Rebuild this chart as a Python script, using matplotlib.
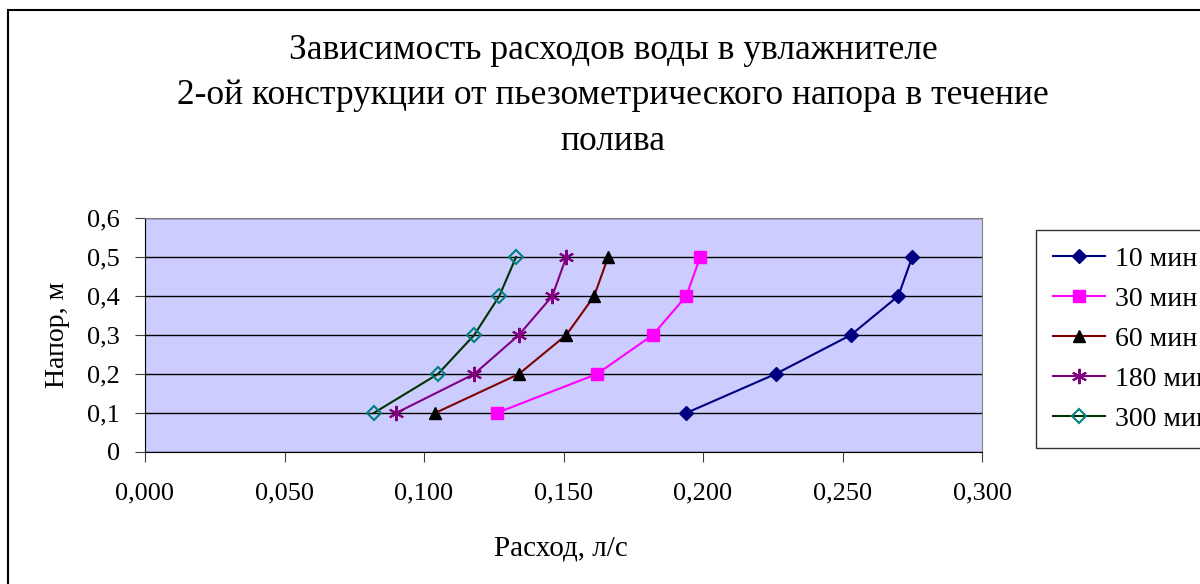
import numpy as np
import matplotlib.pyplot as plt
from matplotlib.patches import Rectangle

plt.rcParams['font.family'] = ['Liberation Serif', 'DejaVu Serif']

# data ========================================================================
head = [0.1, 0.2, 0.3, 0.4, 0.5]
q_10 = [0.194, 0.226, 0.253, 0.270, 0.275]
q_30 = [0.126, 0.162, 0.182, 0.194, 0.199]
q_60 = [0.104, 0.134, 0.151, 0.161, 0.166]
q_180 = [0.090, 0.118, 0.134, 0.146, 0.151]
q_300 = [0.082, 0.105, 0.118, 0.127, 0.133]
labels = ['10 мин', '30 мин', '60 мин', '180 мин', '300 мин']

x_ticks = [0.0, 0.05, 0.10, 0.15, 0.20, 0.25, 0.30]
y_ticks = [0, 0.1, 0.2, 0.3, 0.4, 0.5, 0.6]

# plot ========================================================================
fig = plt.figure(figsize=(12, 5.84), dpi=100)
ax = fig.add_axes([145/1200, 1-452/584, (982-145)/1200, (452-218)/584])
ax.set_facecolor('#CCCCFF')

ax.plot(q_10, head, color='#000080', marker='D', ms=7.5, mfc='#000080', mec='#000080', lw=1.5, label=labels[0])
ax.plot(q_30, head, color='#FF00FF', marker='s', ms=8, mfc='#FF00FF', mec='#FF00FF', lw=1.5, label=labels[1])
ax.plot(q_60, head, color='#800000', marker='^', ms=9, mfc='black', mec='black', lw=1.5, label=labels[2])
ax.plot(q_180, head, color='#800080', marker=(6, 2, 0), ms=11, mew=1.5, mec='#800080', lw=1.5, label=labels[3])
ax.plot(q_300, head, color='#003300', marker='D', ms=7, mfc='none', mec='#008080', mew=1.5, lw=1.5, label=labels[4])

ax.set_xlim(0, 0.3)
ax.set_ylim(0, 0.6)
ax.set_xticks(x_ticks)
ax.set_xticklabels([f'{v:.3f}'.replace('.', ',') for v in x_ticks])
ax.set_yticks(y_ticks)
ax.set_yticklabels(['0'] + [f'{v:.1f}'.replace('.', ',') for v in y_ticks[1:]])
ax.tick_params(labelsize=19, direction='out', length=7, color='#404040')
ax.tick_params(axis='x', pad=15)
ax.tick_params(axis='y', pad=11)
ax.yaxis.grid(True, color='black', lw=1)
ax.set_axisbelow(True)
for s in ['top', 'right']:
    ax.spines[s].set_color('#808080')
for s in ['left', 'bottom']:
    ax.spines[s].set_color('black')

ax.set_xlabel('Расход, л/с', fontsize=21)
ax.xaxis.set_label_coords(0.497, -0.355)
ax.set_ylabel('Напор, м', fontsize=20)
ax.yaxis.set_label_coords(-0.09, 0.5)

fig.text(0.511, 1-96/584, 'Зависимость расходов воды в увлажнителе\n2-ой конструкции от пьезометрического напора в течение\nполива',
         ha='center', va='center', fontsize=25.5, linespacing=1.5)

leg = fig.legend(loc='upper left', bbox_to_anchor=(1036/1200, 1-230/584), fontsize=20,
                 frameon=True, fancybox=False, edgecolor='black', handlelength=1.9,
                 handletextpad=0.35, labelspacing=0.52, borderpad=0.6, borderaxespad=0)
leg.get_frame().set_linewidth(1)

fig.patches.append(Rectangle((8/1200, -0.1), 1.2, (584-10)/584+0.1, transform=fig.transFigure,
                             fill=False, edgecolor='black', lw=1.5))

fig.savefig('out.png', dpi=100)
